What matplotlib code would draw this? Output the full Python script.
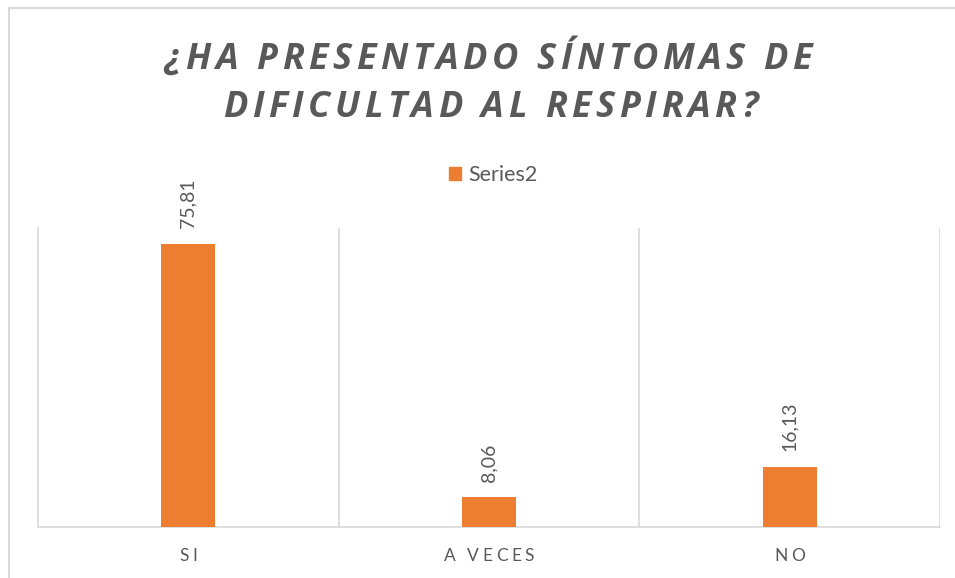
import numpy as np
import matplotlib
matplotlib.use('Agg')
import matplotlib.pyplot as plt
from matplotlib.patches import Patch

categories = ['SI', 'A VECES', 'NO']
values = [75.81, 8.06, 16.13]
value_labels = ['75,81', '8,06', '16,13']
series_name = 'Series2'
title_lines = ['¿HA PRESENTADO SÍNTOMAS DE', 'DIFICULTAD AL RESPIRAR?']

orange = '#ED7D31'
grey_text = '#595959'
grid_grey = '#D9D9D9'

fig = plt.figure(figsize=(9.55, 5.78), dpi=100)
ax = fig.add_axes([38/955, 1 - 527/578, (940 - 38)/955, (527 - 228)/578])
renderer = fig.canvas.get_renderer()


def spaced_text(s, xc, yc, spacing, **kw):
    """draw text with extra letter spacing, centred at (xc, yc) in figure pixels"""
    W, H = fig.bbox.width, fig.bbox.height
    widths = []
    for ch in s:
        if ch == ' ':
            widths.append(kw['fontsize'] * 100 / 72 * 0.26)
        else:
            t = fig.text(0, 0, ch, **kw)
            widths.append(t.get_window_extent(renderer).width)
            t.remove()
    total = sum(widths) + spacing * (len(s) - 1)
    x = xc - total / 2
    for ch, w in zip(s, widths):
        if ch != ' ':
            fig.text(x / W, 1 - yc / H, ch, ha='left', va='center', **kw)
        x += w + spacing


x = np.arange(len(categories))
bars = ax.bar(x, values, width=0.18, color=orange, zorder=3)

ax.set_xlim(-0.5, 2.5)
ax.set_ylim(0, 80)
ax.set_xticks([])
ax.set_yticks([])
for b in [0.5, 1.5, 2.5]:
    ax.axvline(b, color=grid_grey, lw=1.2, zorder=1)
for side in ['top', 'right']:
    ax.spines[side].set_visible(False)
ax.spines['left'].set_color(grid_grey)
ax.spines['bottom'].set_color(grid_grey)
ax.spines['left'].set_linewidth(1.2)
ax.spines['bottom'].set_linewidth(1.2)

for rect, lab in zip(bars, value_labels):
    ax.annotate(lab, (rect.get_x() + rect.get_width() / 2, rect.get_height()),
                xytext=(0, 11), textcoords='offset points', rotation=90,
                ha='center', va='bottom', fontsize=14, color=grey_text,
                family='Lato')

# category labels under the axis
fig.canvas.draw()
for xi, cat in zip(x, categories):
    px = ax.transData.transform((xi, 0))[0]
    spaced_text(cat, px, 556, 3.4, fontsize=12.5, color=grey_text, family='Lato')

# title
spaced_text(title_lines[0], 488, 60, 4.5, fontsize=26, color=grey_text,
            family='Open Sans', weight='bold', style='italic')
spaced_text(title_lines[1], 490, 108, 4.5, fontsize=26, color=grey_text,
            family='Open Sans', weight='bold', style='italic')

leg = fig.legend([Patch(color=orange)], [series_name], loc='center',
                 bbox_to_anchor=(493/955, 1 - 175/578), frameon=False,
                 prop={'family': 'Lato', 'size': 15.5}, labelcolor=grey_text,
                 handlelength=0.55, handleheight=0.55, handletextpad=0.35)

# chart border
fig.add_artist(plt.Line2D([9/955, 1], [1 - 8/578, 1 - 8/578], color=grid_grey, lw=1.5))
fig.add_artist(plt.Line2D([9/955, 9/955], [0, 1 - 8/578], color=grid_grey, lw=1.5))

fig.savefig('out.png', dpi=100)
